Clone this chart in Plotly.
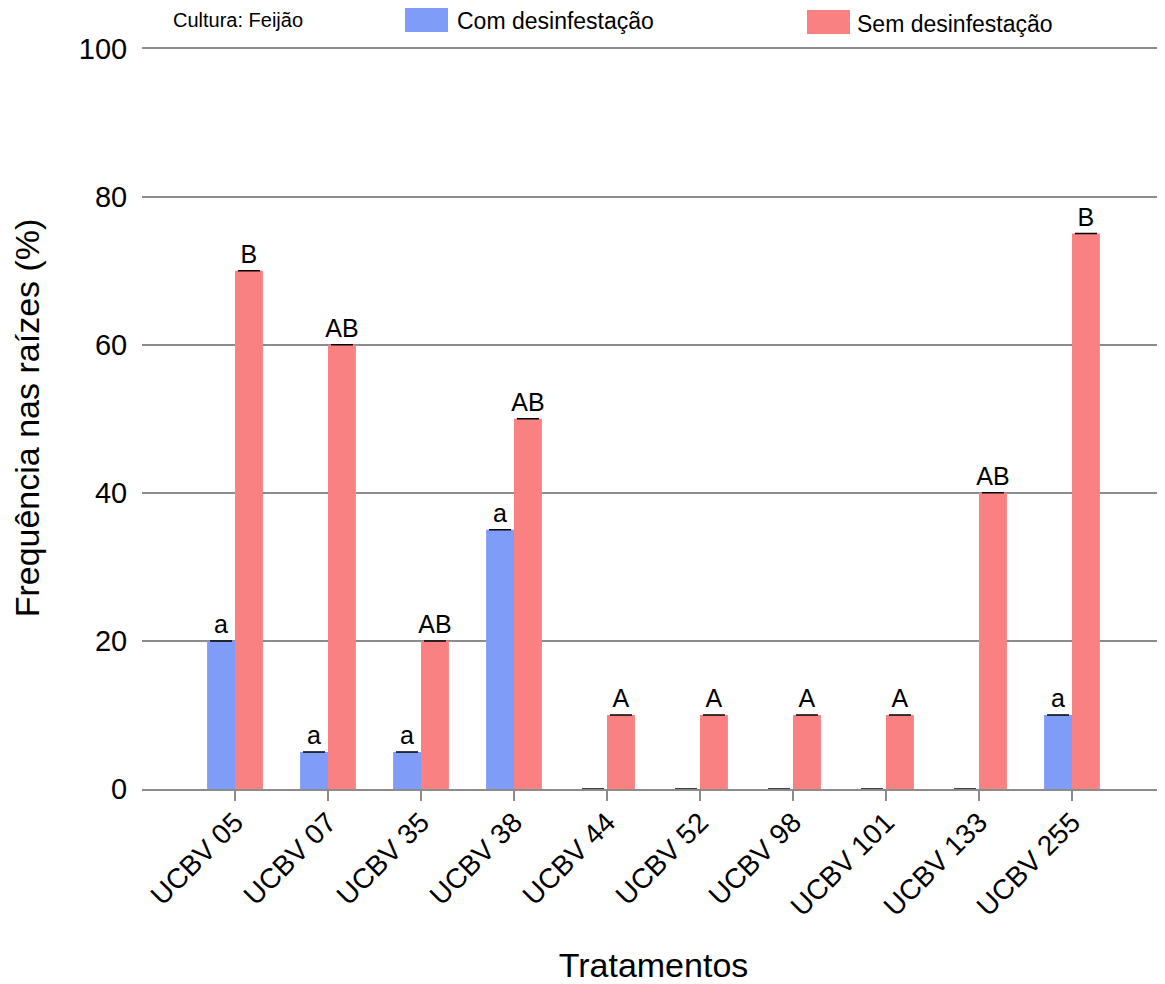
import plotly.graph_objects as go

categories = ["UCBV 05", "UCBV 07", "UCBV 35", "UCBV 38", "UCBV 44",
              "UCBV 52", "UCBV 98", "UCBV 101", "UCBV 133", "UCBV 255"]
com_values = [20, 5, 5, 35, 0, 0, 0, 0, 0, 10]
sem_values = [70, 60, 20, 50, 10, 10, 10, 10, 40, 75]
com_letters = ["a", "a", "a", "a", "", "", "", "", "", "a"]
sem_letters = ["B", "AB", "AB", "AB", "A", "A", "A", "A", "AB", "B"]
y_ticks = [0, 20, 40, 60, 80, 100]
series_names = ["Com desinfestação", "Sem desinfestação"]

BLUE = "#7f9cf8"
RED = "#fa8181"
FONT = "Liberation Sans, Arial, sans-serif"

OFF = 8                      # page body margin offset
W, H = 1165 - OFF, 984 - OFF
L, T, B, R = 142 - OFF, 47 - OFF, 195, 0
PW, PH = W - L - R, H - T - B

fig = go.Figure()
for name, vals, letters, col in [(series_names[0], com_values, com_letters, BLUE),
                                 (series_names[1], sem_values, sem_letters, RED)]:
    fig.add_trace(go.Bar(
        x=categories, y=vals, name=name,
        marker=dict(color=col, line=dict(width=0)),
        text=letters, textposition="outside", cliponaxis=False,
        constraintext="none",
        textfont=dict(size=25, color="black", family=FONT),
        error_y=dict(type="data", array=[0] * len(vals), visible=True,
                     color="black", thickness=1.5, width=11),
        showlegend=False,
    ))

fig.update_layout(
    width=W, height=H,
    margin=dict(l=L, r=R, t=T, b=B, autoexpand=False),
    paper_bgcolor="white", plot_bgcolor="white",
    font=dict(family=FONT, color="black"),
    barmode="group", bargap=0.4, bargroupgap=0,
    showlegend=False,
)

# pixel (reference page coords) -> paper coords
def pxx(x):
    return (x - OFF - L) / PW

def pyy(y):
    return 1 + (T - (y - OFF)) / PH

for (x0, x1, y0, y1, col) in [(405, 448, 8, 32, BLUE), (807, 850, 10, 34, RED)]:
    fig.add_shape(type="rect", xref="paper", yref="paper",
                  x0=pxx(x0), x1=pxx(x1), y0=pyy(y1), y1=pyy(y0),
                  fillcolor=col, line=dict(width=0), layer="above")

def ann(text, x, y, size):
    fig.add_annotation(text=text, xref="paper", yref="paper",
                       x=pxx(x), xanchor="left", y=pyy(y), yanchor="middle",
                       showarrow=False, font=dict(size=size, family=FONT, color="black"))

ann("Cultura: Feijão", 171, 20, 20)
ann(series_names[0], 455, 21, 23)
ann(series_names[1], 855, 24, 23)

fig.update_yaxes(range=[0, 100.2], tickvals=y_ticks, showgrid=True,
                 gridcolor="#8c8c8c", gridwidth=1.5, zeroline=False,
                 showline=False, tickfont=dict(size=29, family=FONT),
                 ticks="outside", ticklen=8, tickcolor="rgba(0,0,0,0)",
                 title=dict(text="Frequência nas raízes (%)", font=dict(size=34, family=FONT), standoff=29))
fig.update_xaxes(range=[-1, 10], tickangle=-45, showline=True, linecolor="#8c8c8c",
                 linewidth=1.5, ticks="outside", tickcolor="#8c8c8c", ticklen=10,
                 tickwidth=1.5, tickfont=dict(size=28, family=FONT),
                 ticklabelstandoff=-6,
                 title=dict(text="Tratamentos", font=dict(size=34, family=FONT), standoff=36))

fig.write_html("out.html")
